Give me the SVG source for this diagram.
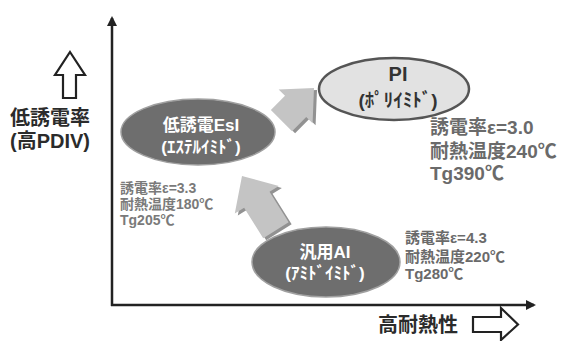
<svg xmlns="http://www.w3.org/2000/svg" width="562" height="341" viewBox="0 0 562 341">
<defs>
<style>
text{font-family:"Liberation Sans","Noto Sans CJK JP",sans-serif;font-weight:bold;}
.ax{fill:#2b2b2b;font-size:20px;}
.wt{fill:#ffffff;text-anchor:middle;font-size:17px;}
.dk{fill:#333333;text-anchor:middle;}
.pg{fill:#6a6a6a;font-size:19px;}
.sm{fill:#7a7a7a;font-size:14px;}
.md{fill:#6a6a6a;font-size:15px;}
.axis{stroke:#222;stroke-width:2.5;fill:none;}
.hollow{fill:#fff;stroke:#222;stroke-width:2.2;stroke-linejoin:miter;}
.blk{fill:#c4c4c4;}
.blkS{fill:#929292;}
.dark{fill:#6e6e6e;stroke:#a0a0a0;stroke-width:1.5;}
.light{fill:#e2e2e2;stroke:#555;stroke-width:2.5;}
</style>
<marker id="ah" markerWidth="10" markerHeight="10" refX="8" refY="5" orient="auto" markerUnits="userSpaceOnUse">
<path d="M0,0 L10,5 L0,10 Z" fill="#222"/>
</marker>
<radialGradient id="gd" cx="0.55" cy="0.45" r="0.6">
<stop offset="0" stop-color="#6a6a6a"/>
<stop offset="0.85" stop-color="#6e6e6e"/>
<stop offset="1" stop-color="#8a8a8a"/>
</radialGradient>
<polygon id="arr1" points="0,0 -26,-24 -26,-15 -46,-15 -46,15 -26,15 -26,24"/>
<polygon id="arr2" points="0,0 -28,-26 -28,-15 -64,-15 -64,15 -28,15 -28,26"/>
</defs>

<g id="axes">
<line class="axis" x1="112" y1="306" x2="112" y2="18" marker-end="url(#ah)"/>
<line class="axis" x1="111" y1="305" x2="534" y2="305" marker-end="url(#ah)"/>
</g>

<g id="y-label">
<polygon class="hollow" points="70,52 85,75 76,75 76,98 63,98 63,75 55,75"/>
<text class="ax" x="10" y="125">低誘電率</text>
<text class="ax" x="10" y="148">(高PDIV)</text>
</g>

<g id="x-label">
<text class="ax" x="378" y="332">高耐熱性</text>
<polygon class="hollow" points="473,317 501,317 501,308 518,324.5 501,340 501,332 473,332"/>
</g>

<g id="connectors">
<use href="#arr1" class="blkS" transform="translate(317,90) rotate(-45)"/>
<use href="#arr1" class="blk" transform="translate(314,88) rotate(-45)"/>
<use href="#arr2" class="blkS" transform="translate(245,178) rotate(-122)"/>
<use href="#arr2" class="blk" transform="translate(242,176) rotate(-122)"/>
</g>

<g id="node-esi">
<ellipse class="dark" cx="198" cy="132" rx="77" ry="33" fill="url(#gd)"/>
<text class="wt" x="201" y="131">低誘電EsI</text>
<text class="wt" x="201" y="153">(ｴｽﾃﾙｲﾐﾄﾞ)</text>
<text class="sm" x="120" y="193">誘電率ε=3.3</text>
<text class="sm" x="120" y="209">耐熱温度180℃</text>
<text class="sm" x="120" y="225">Tg205℃</text>
</g>

<g id="node-pi">
<ellipse class="light" cx="394" cy="89" rx="75" ry="31"/>
<text class="dk" x="398" y="81" font-size="20">PI</text>
<text class="dk" x="398" y="107" font-size="19">(ﾎﾟﾘｲﾐﾄﾞ)</text>
<text class="pg" x="430" y="134">誘電率ε=3.0</text>
<text class="pg" x="430" y="158">耐熱温度240℃</text>
<text class="pg" x="430" y="180">Tg390℃</text>
</g>

<g id="node-ai">
<ellipse class="dark" cx="326" cy="262" rx="74" ry="35" fill="url(#gd)"/>
<text class="wt" x="325" y="258">汎用AI</text>
<text class="wt" x="325" y="279">(ｱﾐﾄﾞｲﾐﾄﾞ)</text>
<text class="md" x="405" y="243">誘電率ε=4.3</text>
<text class="md" x="405" y="262">耐熱温度220℃</text>
<text class="md" x="405" y="279">Tg280℃</text>
</g>
</svg>
